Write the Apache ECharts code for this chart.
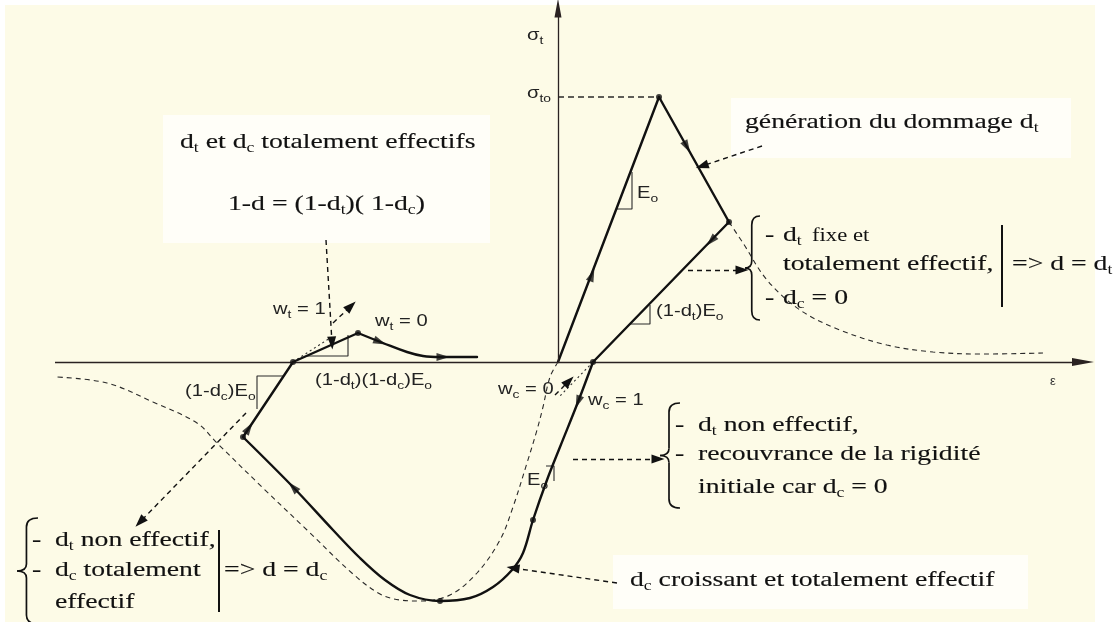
<!DOCTYPE html>
<html>
<head>
<meta charset="utf-8">
<title>Cycle uniaxial traction-compression</title>
<script src="https://cdn.jsdelivr.net/npm/echarts@6/dist/echarts.min.js"></script>
<style>
  html, body { margin: 0; padding: 0; background: #ffffff; }
  #chart { width: 1119px; height: 622px; }
</style>
</head>
<body>
<div id="chart"></div>
<script>
// ---- Uniaxial load cycle in the (ε, σ) plane; origin where the two axes cross ----
const tensionLoading       = [[0, 0], [101, 265]];
const tensionSoftening     = [[101, 265], [171, 140]];
const tensionUnloading     = [[171, 140], [35, 0]];
const compressionBranch    = [[35, 0], [20, -40], [2, -85], [-11, -118], [-25, -158], [-35, -191], [-46, -208], [-65, -225], [-88, -236], [-118, -239], [-148, -233], [-173, -218], [-198, -196], [-225, -168], [-265, -125], [-315, -75]];
const compressionUnloading = [[-315, -75], [-265, 0]];
const tensionReloading     = [[-265, 0], [-200, 29]];
const tensionResoftening   = [[-200, 29], [-175, 19], [-151, 10], [-135, 6], [-118, 5], [-81, 5]];

// undamaged envelopes (dashed)
const tensionEnvelope     = [[171, 140], [185, 119], [209, 82], [242, 52], [282, 32], [329, 17], [375, 10], [425, 8], [485, 9]];
const compressionEnvelope = [[0, 0], [-8, -15], [-15, -45], [-21, -68], [-31, -101], [-45, -145], [-58, -178], [-81, -211], [-108, -233], [-138, -239], [-158, -238], [-178, -232], [-205, -212], [-251, -168], [-295, -126], [-341, -81], [-361, -61], [-405, -40], [-451, -21], [-501, -15]];

// stiffness-recovery alternatives (dotted)
const wtOneLine  = [[-265, 0], [-228, 24]];
const wcZeroLine = [[35, 0], [2, -34]];

// peak tensile stress σt0
const sigmaT0Line = [[0, 265], [101, 265]];

// state points on the cycle
const statePoints = [[101, 265], [171, 140], [35, 0], [-265, 0], [-200, 29], [-315, -75], [-25, -158], [-118, -239]];

// slope indicators
const slopeE0Tension     = [[58, 153], [74, 153], [74, 190]];
const slopeDtE0          = [[72, 38], [92, 38], [92, 57]];
const slopeDtDcE0        = [[-252, 6], [-210, 6], [-210, 27]];
const slopeDcE0          = [[-275, -14], [-301, -14], [-301, -47]];
const slopeE0Compression = [[-12, -104], [-4, -104], [-4, -119]];

// direction of travel along the cycle
const directionArrows = [
  { path: tensionLoading, at: [34, 87] },
  { path: tensionSoftening, at: [129, 215] },
  { path: tensionUnloading, at: [153, 121] },
  { path: compressionBranch, at: [20, -40] },
  { path: compressionBranch, at: [-265, -125] },
  { path: compressionUnloading, at: [-309, -66] },
  { path: tensionResoftening, at: [-178, 20] },
  { path: tensionResoftening, at: [-115, 5] }
];

// axes
const strainAxis = [[-503, 0], [525, 0]];
const stressAxis = [[0, 0], [0, 354]];

// annotation pointers (from, to)
const pointers = [
  [[204, 216], [144, 196]],
  [[130, 92], [184, 92]],
  [[15, -97], [100, -97]],
  [[59, -221], [-45, -206]],
  [[-312, -51], [-418, -160]],
  [[-232, 122], [-226, 19]],
  [[-225, 39], [-207, 56]],
  [[-3, -33], [11, -19]]
];

// ---- helpers ----
function segDir(path, p) {
  let best = Infinity, ang = 0;
  for (let i = 0; i < path.length - 1; i++) {
    const a = path[i], b = path[i + 1];
    const dx = b[0] - a[0], dy = b[1] - a[1];
    const L2 = dx * dx + dy * dy;
    let t = ((p[0] - a[0]) * dx + (p[1] - a[1]) * dy) / L2;
    t = Math.max(0, Math.min(1, t));
    const qx = a[0] + t * dx - p[0], qy = a[1] + t * dy - p[1];
    const d = qx * qx + qy * qy;
    if (d < best - 1e-9) { best = d; ang = Math.atan2(dy, dx) * 180 / Math.PI; }
  }
  return ang;
}

function richMarkup(str, base, sub) {
  let out = '', buf = '';
  for (let i = 0; i < str.length; i++) {
    const ch = str[i];
    if (ch === '_') {
      if (buf) { out += '{' + base + '|' + buf + '}'; buf = ''; }
      let s;
      if (str[i + 1] === '{') { const j = str.indexOf('}', i); s = str.slice(i + 2, j); i = j; }
      else { s = str[i + 1]; i++; }
      out += '{' + sub + '|' + s + '}';
    } else buf += ch;
  }
  if (buf) out += '{' + base + '|' + buf + '}';
  return out;
}

const STRETCH = 1.26;
const SERIF = 'Liberation Serif';
const SANS = 'Liberation Sans';
const ink = '#111111';

const serifRich = {
  n: { fontFamily: SERIF, fontSize: 22, lineHeight: 26, fill: ink, stroke: ink, lineWidth: 0.15 },
  s: { fontFamily: SERIF, fontSize: 14, lineHeight: 13, verticalAlign: 'bottom', fill: ink },
  m: { fontFamily: SERIF, fontSize: 18, lineHeight: 26, fill: ink }
};
const sansRich = {
  n: { fontFamily: SANS, fontSize: 16, lineHeight: 20, fill: '#222' },
  s: { fontFamily: SANS, fontSize: 11, lineHeight: 11, verticalAlign: 'bottom', fill: '#222' }
};

function serifText(x, y, str, base) {
  return {
    type: 'text', x: x, y: y, scaleX: STRETCH, silent: true,
    style: { x: 0, y: 0, text: richMarkup(str, base || 'n', 's'), rich: serifRich,
      font: '22px "' + SERIF + '"', fill: ink, align: 'left', verticalAlign: 'middle' }
  };
}
function sansText(x, y, str) {
  return {
    type: 'text', x: x, y: y, scaleX: STRETCH, silent: true,
    style: { x: 0, y: 0, text: richMarkup(str, 'n', 's'), rich: sansRich,
      font: '16px "' + SANS + '"', fill: '#222', align: 'left', verticalAlign: 'middle' }
  };
}
const strokeStyle = { stroke: ink, fill: null, lineWidth: 1.7 };
function curve(x1, y1, cx, cy, x2, y2) {
  return { type: 'bezierCurve', silent: true,
    shape: { x1: x1, y1: y1, cpx1: cx, cpy1: cy, x2: x2, y2: y2 }, style: strokeStyle };
}
function seg(x1, y1, x2, y2, w) {
  return { type: 'line', silent: true, shape: { x1: x1, y1: y1, x2: x2, y2: y2 },
    style: { stroke: ink, lineWidth: w || 1.7 } };
}
// curly brace opening to the right, tip on the left
function brace(tipX, top, bottom, w) {
  const ex = tipX + w, sx = tipX + w * 0.45, mid = (top + bottom) / 2;
  return {
    type: 'group', silent: true,
    children: [
      curve(ex, top, sx, top, sx, top + 9),
      seg(sx, top + 9, sx, mid - 7),
      curve(sx, mid - 7, sx, mid, tipX, mid),
      curve(tipX, mid, sx, mid, sx, mid + 7),
      seg(sx, mid + 7, sx, bottom - 9),
      curve(sx, bottom - 9, sx, bottom, ex, bottom)
    ]
  };
}
function box(x, y, w, h) {
  return { type: 'rect', silent: true, shape: { x: x, y: y, width: w, height: h }, style: { fill: '#fffef8' } };
}

const graphicElements = [
  { type: 'rect', silent: true, shape: { x: 5, y: 5, width: 1090, height: 617 }, style: { fill: '#fdfbe7' } },
  box(163, 115, 327, 128),
  box(731, 98, 340, 60),
  box(613, 555, 415, 54),

  serifText(180, 142, 'd_t et d_c totalement effectifs'),
  serifText(228, 204, '1-d = (1-d_t)( 1-d_c)'),
  serifText(745, 122, 'génération du dommage d_t'),

  serifText(765, 235, '-'),
  serifText(783, 235, 'd_t'),
  serifText(812, 236, 'fixe et', 'm'),
  serifText(783, 264, 'totalement effectif,'),
  serifText(765, 298, '-'),
  serifText(783, 298, 'd_c = 0'),
  serifText(1012, 264, '=> d = d_t'),

  serifText(675, 425, '-'),
  serifText(698, 425, 'd_t non effectif,'),
  serifText(675, 454, '-'),
  serifText(698, 454, 'recouvrance de la rigidité'),
  serifText(698, 487, 'initiale car d_c = 0'),

  serifText(630, 580, 'd_c croissant et totalement effectif'),

  serifText(32, 540, '-'),
  serifText(55, 540, 'd_t non effectif,'),
  serifText(32, 570, '-'),
  serifText(55, 570, 'd_c totalement'),
  serifText(55, 602, 'effectif'),
  serifText(224, 570, '=> d = d_c'),

  brace(745, 216, 320, 15),
  brace(660, 403, 508, 20),
  brace(17, 518, 624, 21),
  seg(1002, 225, 1002, 307, 2),
  seg(219, 530, 219, 612, 2),

  sansText(527, 36, 'σ_t'),
  sansText(527, 94, 'σ_{to}'),
  sansText(637, 194, 'E_o'),
  sansText(656, 312, '(1-d_t)E_o'),
  sansText(273, 310, 'w_t = 1'),
  sansText(375, 322, 'w_t = 0'),
  sansText(315, 381, '(1-d_t)(1-d_c)E_o'),
  sansText(185, 392, '(1-d_c)E_o'),
  sansText(498, 390, 'w_c = 0'),
  sansText(588, 401, 'w_c = 1'),
  sansText(527, 481, 'E_o'),
  { type: 'text', x: 1050, y: 381, silent: true,
    style: { text: 'ε', font: '13px "' + SANS + '"', fill: '#333', align: 'left', verticalAlign: 'middle' } }
];

// ---- series ----
function pathLine(data, smooth) {
  return { type: 'line', data: data, smooth: smooth || false, symbol: 'none', silent: true, z: 4,
    lineStyle: { color: ink, width: 2.4, cap: 'round', join: 'round' } };
}
function thinLine(data, type, width, smooth) {
  return { type: 'line', data: data, smooth: smooth || false, symbol: 'none', silent: true, z: 3,
    lineStyle: { color: '#2a2a2a', width: width, type: type } };
}

const arrowData = directionArrows.map(function (a) {
  return { value: a.at, symbolRotate: segDir(a.path, a.at) - 90 };
});

const series = [
  thinLine(tensionEnvelope, [5, 4], 1.1, 0.35),
  thinLine(compressionEnvelope, [5, 4], 1.1, 0.35),
  thinLine(sigmaT0Line, [6, 4], 1.3),
  thinLine(wtOneLine, [2, 3], 1.1),
  thinLine(wcZeroLine, [2, 3], 1.1),
  thinLine(slopeE0Tension, 'solid', 1.1),
  thinLine(slopeDtE0, 'solid', 1.1),
  thinLine(slopeDtDcE0, 'solid', 1.1),
  thinLine(slopeDcE0, 'solid', 1.1),
  thinLine(slopeE0Compression, 'solid', 1.1),
  {
    type: 'line', data: [], silent: true, color: '#2a2222',
    markLine: {
      silent: true, animation: false, symbol: ['none', 'triangle'],
      label: { show: false }, emphasis: { disabled: true },
      lineStyle: { color: '#2a2222', width: 1.3, type: 'solid' },
      data: [
        [{ coord: strainAxis[0] }, { coord: strainAxis[1], symbolSize: [8, 22] }],
        [{ coord: stressAxis[0] }, { coord: stressAxis[1], symbolSize: [7, 19] }]
      ]
    }
  },
  {
    type: 'line', data: [], silent: true, color: ink,
    markLine: {
      silent: true, animation: false, symbol: ['none', 'triangle'],
      label: { show: false }, emphasis: { disabled: true },
      lineStyle: { color: ink, width: 1.4, type: [5, 4] },
      data: pointers.map(function (p) {
        return [{ coord: p[0] }, { coord: p[1], symbolSize: [9, 13] }];
      })
    }
  },
  pathLine(tensionLoading),
  pathLine(tensionSoftening),
  pathLine(tensionUnloading),
  pathLine(compressionBranch, 0.35),
  pathLine(compressionUnloading),
  pathLine(tensionReloading),
  pathLine(tensionResoftening, 0.4),
  {
    type: 'scatter', data: arrowData, symbol: 'triangle', symbolSize: [8, 13], silent: true, z: 5,
    itemStyle: { color: ink }
  },
  {
    type: 'scatter', data: statePoints, symbol: 'circle', symbolSize: 6, silent: true, z: 6,
    itemStyle: { color: ink }
  }
];

const chart = echarts.init(document.getElementById('chart'), null, { renderer: 'canvas' });
chart.setOption({
  animation: false,
  backgroundColor: 'transparent',
  grid: { left: 0, right: 0, top: 0, bottom: 0 },
  xAxis: { type: 'value', min: -558, max: 561, show: false },
  yAxis: { type: 'value', min: -260, max: 362, show: false },
  tooltip: { show: false },
  graphic: { elements: graphicElements },
  series: series
});
</script>
</body>
</html>
